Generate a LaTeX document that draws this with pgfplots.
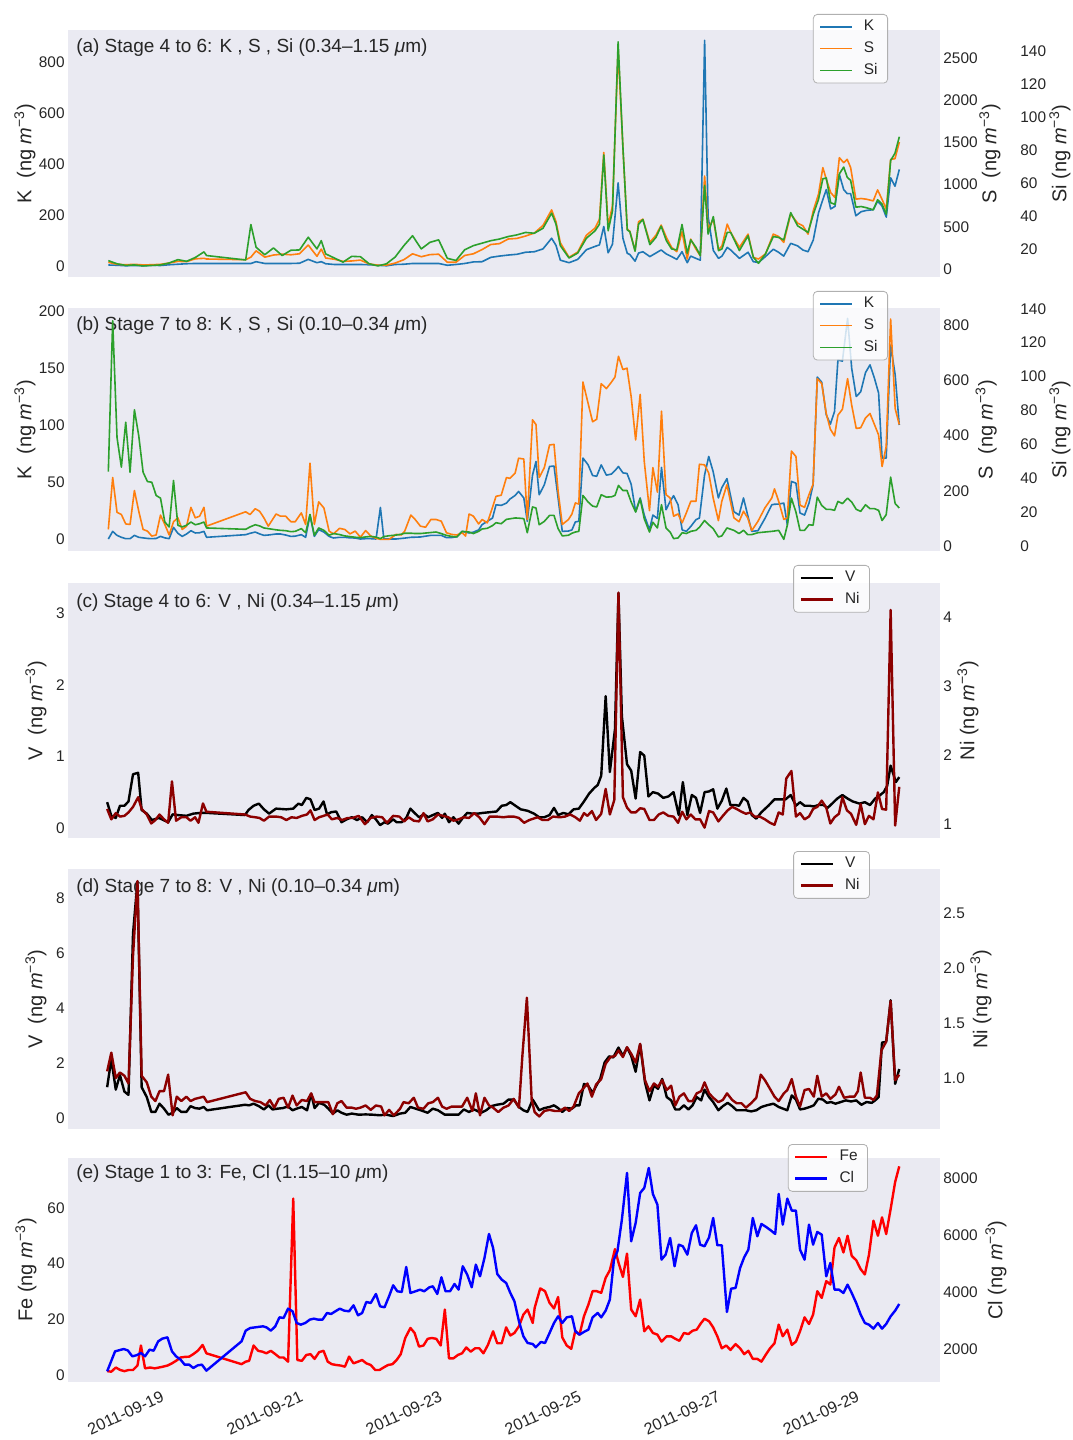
\documentclass[border=0pt]{standalone}
\usepackage{pgfplots}
\pgfplotsset{compat=1.18}
\usepackage{pgfplotstable}
\usepackage{fontspec}
\setmainfont{Liberation Sans}

\definecolor{bg}{HTML}{EAEAF2}
\definecolor{tg}{HTML}{262626}
\definecolor{tabblue}{HTML}{1F77B4}
\definecolor{taborange}{HTML}{FF7F0E}
\definecolor{tabgreen}{HTML}{2CA02C}
\definecolor{lgframe}{HTML}{B0B0B0}

\newcommand\tickfont{\fontsize{7.7}{9}\selectfont}
\newcommand\xtickfont{\fontsize{8.1}{9.5}\selectfont}
\newcommand\labfont{\fontsize{10}{12}\selectfont}
\newcommand\titfont{\fontsize{9.5}{11}\selectfont}
\newcommand\legfont{\fontsize{7.7}{9}\selectfont}
\newcommand\unit{(ng \textit{m}\textsuperscript{−3})}

\tikzset{ptitle/.style={anchor=west, font=\titfont, text=tg, inner sep=0pt}}

\pgfplotsset{
  panel/.style={scale only axis, width=436pt, xmin=17.70, xmax=30.24, anchor=south west,
    axis line style={draw=none}, major tick length=0pt,
    xtick={19,21,23,25,27,29}, xticklabels={},
    scaled y ticks=false,
    /pgf/number format/1000 sep={},
    /pgf/number format/assume math mode=true,
    tick label style={font=\tickfont, text=tg},
    y tick label style={inner xsep=1.5pt},
    legend style={draw=lgframe, rounded corners=2pt, fill=white, fill opacity=0.8,
      text opacity=1, font=\legfont, text=tg, anchor=north east,
      cells={anchor=west}, inner xsep=3pt, inner ysep=0.8pt},
    legend image code/.code={\draw (0pt,0pt) -- (16pt,0pt); \path (19.5pt,0pt);},
  },
  ylab/.style={every axis y label/.style={at={(axis description cs:#1,0.5)},rotate=90,anchor=center,font=\labfont,text=tg}},
  first/.style={panel, axis background/.style={fill=bg}},
  twin/.style={panel, hide x axis, yticklabel pos=right},
}

% panel (a): stage 4-6, K S Si
\pgfplotstableread{
t K S Si
18.28 3 79 12.9
18.405 2 55 11
18.53 0 50 10
18.655 1 55 10.3
18.78 0 48 9.7
18.905 2 50 10
19.03 1 55 10.3
19.155 4 70 11.5
19.28 6 90 13.5
19.405 8 87 12.5
19.53 9 120 14.8
19.655 9 126 18.2
19.6925 9 118 16
20.255 9 110 13.3
20.33 9 140 34.8
20.405 16 215 21
20.53 9 140 16.5
20.655 9 165 20.6
20.78 9 175 16
20.905 9 168 19.2
21.03 10 180 19.4
21.155 25 283 27.1
21.28 12 150 20
21.3425 16 236 25
21.405 8 130 17
21.53 5 115 14.5
21.655 5 90 12
21.78 5 95 15.5
21.905 5 105 15.3
22.03 4 60 11
22.155 2 45 9.7
22.28 0 45 11
22.405 5 70 15.1
22.53 6 110 22
22.655 9 180 28
22.78 9 145 20
22.905 9 170 24
23.03 9 175 25.5
23.155 2 80 14.3
23.28 5 80 13
23.405 9 160 19.5
23.53 15 180 22
23.655 16 230 23.5
23.78 33 290 25
23.905 38 300 26
24.03 42 355 27.5
24.155 45 362 28.5
24.28 53 390 30
24.405 55 425 29.5
24.53 66 515 32.5
24.655 108 700 41.7
24.7175 80 560 35
24.78 22 310 22
24.905 12 138 14.5
25.03 25 200 17.5
25.155 63 400 26.5
25.28 76 485 31
25.3425 82 590 35
25.405 154 1380 77
25.4675 51 512 31
25.53 85 750 43
25.611 325 2600 145.5
25.68 108 1437 81.7
25.7425 49 472 31.5
25.78 44 445 30.5
25.855 18 217 18.6
25.905 50 560 35
25.9675 55 590 37.8
26.0675 36 315 22.6
26.155 50 400 27
26.23 62 520 33.8
26.305 46 374 25
26.38 36 256 20
26.455 25 205 19.4
26.53 55 441 34.8
26.605 12 118 17.4
26.655 38 354 25.5
26.73 29 236 21
26.7925 22 157 16
26.855 884 1102 58.5
26.905 193 472 29
26.98 60 590 39.6
27.055 29 228 19
27.105 38 275 20
27.18 72 531 30
27.23 62 433 30
27.355 29 256 19
27.48 53 413 28
27.555 16 138 15
27.63 13 118 11.3
27.73 36 177 17
27.8425 65 413 27.5
27.9175 53 386 27
27.9925 38 315 25.5
28.0925 88 650 42
28.1925 78 543 34
28.2675 62 512 32
28.3425 55 413 30
28.4175 101 690 41
28.4925 207 886 50
28.555 260 1201 62.5
28.605 299 1063 63
28.6675 223 906 48
28.73 233 846 47
28.7925 358 1319 65.5
28.855 299 1260 69.6
28.905 283 1299 63.5
28.955 283 1201 61.5
29.03 196 827 45.3
29.105 212 835 45.7
29.18 217 827 45
29.28 220 807 43.7
29.3425 253 937 49.8
29.405 235 827 47.3
29.4675 191 709 41
29.53 345 1299 73.6
29.5925 312 1307 78
29.655 378 1504 88
}\tabA

% panel (b): stage 7-8, K S Si
\pgfplotstableread{
t K S Si
18.28 0 60 43.9
18.3425 6.7 248 133
18.405 3.2 122 64
18.4675 1.5 114 46.5
18.53 0.3 80 73
18.5925 0.3 78 43.5
18.655 3.2 201 80.4
18.7175 1.5 126 65
18.78 1 60 43.5
18.8425 0.5 54 38
18.905 0.3 36 37.6
18.9675 0.5 40 29.8
19.03 2.3 112 28.2
19.0925 1 78 14.1
19.155 0.3 40 11.2
19.2175 10.2 88 38.6
19.28 5 102 12.2
19.3425 2.3 60 11.2
19.405 4.4 72 12.2
19.4675 7.3 140 14.1
19.53 5.3 102 12.5
19.5925 5.5 108 13.1
19.655 6.7 140 14.1
19.6925 1.5 72 10.6
20.255 3.8 124 9.8
20.3175 5 114 11.2
20.3925 6.1 135 12.5
20.455 4.5 126 11.8
20.5175 3.2 102 10.6
20.58 3.5 72 10.2
20.6925 4.4 116 9.5
20.755 4.4 108 9.2
20.83 3.5 108 9
20.905 2.3 88 8.4
20.9675 2.5 88 8.6
21.055 3.8 120 10.2
21.1175 1.5 78 7.8
21.18 21 300 18.6
21.2425 2.3 78 6.3
21.305 8.2 160 10.6
21.38 6.1 138 9.2
21.455 2.3 54 6.3
21.5175 0.9 44 7.3
21.605 1.5 64 6.7
21.68 1.5 60 5.9
21.755 1 44 5.5
21.83 0.9 54 5.1
21.905 0 32 4.9
21.98 0.3 56 5.3
22.055 0.3 36 5.6
22.13 0 28 5.2
22.1925 27.7 24 4.3
22.2425 0 24 5.5
22.3175 0 24 6
22.4175 0 42 6.4
22.4925 0.5 40 6.9
22.5425 0.8 54 7.5
22.63 1.5 112 7.5
22.6925 1.6 96 7.3
22.7675 1.8 72 7.3
22.8425 2.5 68 7.6
22.9175 3.2 96 7.9
22.9925 3.2 96 8.2
23.0675 3.2 90 7.3
23.1425 1.2 48 6.2
23.2175 1.3 42 5.6
23.2925 2 40 5.3
23.3675 6.7 48 8.6
23.4175 6 36 8.4
23.4675 5.3 116 8.2
23.53 6 108 7.3
23.605 8 80 8.6
23.655 12.6 96 10
23.73 15.5 84 10.4
23.805 18.4 140 12
23.855 30 180 13.7
23.93 29.5 184 13.1
24.005 31.5 248 15.7
24.055 35 245 16
24.13 38.2 264 16.5
24.18 41.7 318 16.4
24.255 36 315 16.1
24.305 15.5 96 7.8
24.38 56 457 23
24.43 68 440 22.4
24.476 38.8 248 12.5
24.550 47.6 284 14.5
24.625 63.6 366 18
24.689 64 368 18
24.748 36 198 10.2
24.808 6.7 78 5.9
24.897 7 96 6.3
24.947 8 116 7.5
24.996 15 156 8.2
25.046 15.5 152 8.6
25.105 71 594 29.8
25.180 65 516 25.9
25.244 55.7 450 23.5
25.303 55 459 23
25.368 65 588 30.2
25.442 56 570 28.8
25.516 57 594 29
25.566 60 612 29.8
25.616 63.6 687 35.7
25.680 58 639 32.7
25.739 57.5 644 32.7
25.799 48 540 25.9
25.863 24 384 20
25.928 36 549 27.8
25.987 21 306 16
26.062 8 128 8.2
26.111 21 284 14
26.176 18 195 10.6
26.235 62.8 488 24.3
26.300 25.7 186 10.6
26.359 33 174 8.2
26.409 38 108 4.3
26.473 30 116 4.7
26.532 8 84 7.8
26.592 6.7 120 7.3
26.656 11 162 8.6
26.731 17 162 9.2
26.780 18.4 296 11
26.854 56 294 15
26.914 72.4 264 12.5
26.978 59 174 10.2
27.053 36 92 5.3
27.102 45 162 5.9
27.176 53 222 10.6
27.276 24 102 9.2
27.350 21 88 7.3
27.414 36 126 9.2
27.474 21 102 6.7
27.533 6.7 56 6.7
27.623 7.3 90 7.8
27.722 18 138 8.2
27.821 30 174 8.6
27.860 30.5 207 8.8
27.920 30.6 162 9.2
27.994 31.5 96 3.9
28.044 12.6 102 12.2
28.103 50.5 344 28.2
28.168 49 324 20
28.227 22.8 148 9.2
28.292 21 140 9.2
28.356 31.5 186 12.5
28.415 47.6 224 12.2
28.475 142 606 28.8
28.539 137.5 588 23.9
28.604 109 480 21.6
28.663 100.7 423 21.6
28.723 111.8 399 21
28.772 157 474 26.3
28.836 156 495 25
28.911 193.5 606 28.2
28.970 149.7 510 25.9
29.035 125 426 21.6
29.099 129 428 20.4
29.169 146 464 24.3
29.233 152.7 480 22
29.297 141 440 22
29.357 128 402 21
29.407 71 288 15
29.466 71 360 18.4
29.530 170 822 40.6
29.595 144 498 25
29.654 100 440 22.4
}\tabB

\begin{document}
\begin{tikzpicture}
\path[use as bounding box] (0pt,0pt) rectangle (536pt,720pt);

% ---------------- (a)
\begin{axis}[first, at={(34pt,581.5pt)}, height=123.5pt, ymin=-44, ymax=925,
  ytick={0,200,400,600,800}, ylab=-0.0493, ylabel={K\ \ \unit}]
\addplot[tabblue, line width=0.8pt, line join=round] table[x=t,y=K]{\tabA};
\node[ptitle] at (rel axis cs:0.009,0.927)
  {(a) Stage 4 to 6: K , S , Si (0.34–1.15 \textit{μ}m)};
\end{axis}
\begin{axis}[twin, at={(34pt,581.5pt)}, height=123.5pt, ymin=-95, ymax=2832,
  ytick={0,500,1000,1500,2000,2500}, ylab=1.0573, ylabel={S\ \ \unit}]
\addplot[taborange, line width=0.8pt, line join=round] table[x=t,y=S]{\tabA};
\end{axis}
\begin{axis}[twin, at={(34pt,581.5pt)}, height=123.5pt, ymin=3, ymax=152.7,
  ytick={20,40,60,80,100,120,140}, y tick label style={xshift=38.5pt},
  ylab=1.1376, ylabel={Si \unit}, legend style={at={(0.9404,1.0648)}}]
\addlegendimage{tabblue, line width=0.8pt}
\addlegendimage{taborange, line width=0.8pt}
\addplot[tabgreen, line width=0.8pt, line join=round] table[x=t,y=Si]{\tabA};
\legend{K,S,Si}
\end{axis}

% ---------------- (b)
\begin{axis}[first, at={(34pt,444.5pt)}, height=121.5pt, ymin=-10.5, ymax=202.6,
  ytick={0,50,100,150,200}, ylab=-0.0493, ylabel={K\ \ \unit}]
\addplot[tabblue, line width=0.8pt, line join=round] table[x=t,y=K]{\tabB};
\node[ptitle] at (rel axis cs:0.009,0.926)
  {(b) Stage 7 to 8: K , S , Si (0.10–0.34 \textit{μ}m)};
\end{axis}
\begin{axis}[twin, at={(34pt,444.5pt)}, height=121.5pt, ymin=-18, ymax=862,
  ytick={0,200,400,600,800}, ylab=1.053, ylabel={S\ \ \unit}]
\addplot[taborange, line width=0.8pt, line join=round] table[x=t,y=S]{\tabB};
\end{axis}
\begin{axis}[twin, at={(34pt,444.5pt)}, height=121.5pt, ymin=-3, ymax=140.5,
  ytick={0,20,40,60,80,100,120,140}, y tick label style={xshift=38.5pt},
  ylab=1.1376, ylabel={Si \unit}, legend style={at={(0.9404,1.07)}}]
\addlegendimage{tabblue, line width=0.8pt}
\addlegendimage{taborange, line width=0.8pt}
\addplot[tabgreen, line width=0.8pt, line join=round] table[x=t,y=Si]{\tabB};
\legend{K,S,Si}
\end{axis}

% ---------------- (c)
\begin{axis}[first, at={(34pt,301pt)}, height=127.5pt, ymin=-0.14, ymax=3.42,
  ytick={0,1,2,3}, ylab=-0.0367, ylabel={V\ \ \unit}]
\addplot[black, line width=1.2pt, line join=round] coordinates {
(18.263,0.36)(18.323,0.17)(18.387,0.14)(18.447,0.31)(18.511,0.31)(18.570,0.37)(18.635,0.75)(18.709,0.77)(18.759,0.25)(18.833,0.20)(18.907,0.11)(19.007,0.14)(19.140,0.08)(19.205,0.19)(19.279,0.18)(19.403,0.17)(19.502,0.20)(19.601,0.21)(19.700,0.21)(20.245,0.18)(20.295,0.25)(20.369,0.31)(20.444,0.34)(20.518,0.26)(20.592,0.20)(20.691,0.27)(20.840,0.26)(20.939,0.27)(21.013,0.34)(21.063,0.32)(21.127,0.42)(21.187,0.40)(21.246,0.25)(21.311,0.27)(21.375,0.37)(21.425,0.19)(21.484,0.22)(21.558,0.23)(21.633,0.08)(21.707,0.12)(21.781,0.15)(21.856,0.11)(21.930,0.15)(22.004,0.08)(22.069,0.18)(22.128,0.12)(22.188,0.04)(22.252,0.08)(22.302,0.06)(22.376,0.12)(22.426,0.08)(22.500,0.08)(22.564,0.14)(22.624,0.27)(22.673,0.22)(22.748,0.15)(22.822,0.19)(22.881,0.15)(22.946,0.18)(23.020,0.21)(23.080,0.14)(23.119,0.20)(23.179,0.08)(23.243,0.15)(23.317,0.06)(23.377,0.14)(23.441,0.21)(23.516,0.20)(23.590,0.20)(23.664,0.21)(23.764,0.22)(23.863,0.23)(23.937,0.31)(24.001,0.32)(24.061,0.36)(24.135,0.31)(24.210,0.26)(24.309,0.24)(24.402,0.20)(24.476,0.15)(24.550,0.15)(24.625,0.18)(24.689,0.28)(24.748,0.18)(24.823,0.21)(24.897,0.19)(24.971,0.26)(25.046,0.27)(25.120,0.37)(25.194,0.48)(25.269,0.56)(25.318,0.60)(25.368,0.73)(25.432,1.84)(25.492,0.78)(25.566,1.38)(25.616,3.28)(25.665,1.56)(25.739,0.89)(25.799,0.80)(25.863,0.41)(25.928,1.06)(25.987,1.01)(26.047,0.44)(26.111,0.50)(26.185,0.48)(26.260,0.42)(26.334,0.44)(26.408,0.50)(26.483,0.18)(26.542,0.64)(26.607,0.18)(26.671,0.46)(26.731,0.42)(26.790,0.21)(26.854,0.50)(26.919,0.51)(26.978,0.54)(27.038,0.27)(27.102,0.38)(27.167,0.55)(27.226,0.32)(27.301,0.32)(27.350,0.31)(27.414,0.42)(27.474,0.37)(27.533,0.18)(27.598,0.13)(27.672,0.22)(27.771,0.31)(27.860,0.40)(27.945,0.40)(28.019,0.40)(28.093,0.46)(28.168,0.31)(28.227,0.36)(28.292,0.31)(28.366,0.31)(28.425,0.30)(28.490,0.32)(28.564,0.32)(28.623,0.28)(28.688,0.34)(28.762,0.41)(28.836,0.46)(28.911,0.41)(28.985,0.37)(29.084,0.34)(29.159,0.36)(29.233,0.32)(29.307,0.41)(29.367,0.45)(29.431,0.50)(29.481,0.59)(29.530,0.87)(29.605,0.64)(29.654,0.71)
};
\node[ptitle] at (rel axis cs:0.009,0.925)
  {(c) Stage 4 to 6: V , Ni (0.34–1.15 \textit{μ}m)};
\end{axis}
\begin{axis}[twin, at={(34pt,301pt)}, height=127.5pt, ymin=0.8, ymax=4.49,
  ytick={1,2,3,4}, ylab=1.032, ylabel={Ni \unit}, legend style={at={(0.9197,1.0706)}}]
\addlegendimage{black, line width=1.2pt}
\addplot[red!55!black, line width=1.2pt, line join=round] coordinates {
(18.263,1.22)(18.323,1.07)(18.387,1.16)(18.447,1.11)(18.511,1.12)(18.570,1.17)(18.635,1.25)(18.709,1.39)(18.759,1.22)(18.833,1.14)(18.897,1.01)(18.957,1.06)(19.016,1.14)(19.081,1.07)(19.140,1.02)(19.195,1.62)(19.254,1.05)(19.329,1.10)(19.403,1.10)(19.462,1.05)(19.527,1.10)(19.576,1.02)(19.641,1.30)(19.690,1.18)(20.245,1.14)(20.320,1.11)(20.394,1.10)(20.453,1.09)(20.518,1.05)(20.592,1.11)(20.691,1.11)(20.766,1.10)(20.840,1.06)(20.914,1.10)(20.988,1.09)(21.063,1.12)(21.137,1.14)(21.187,1.20)(21.246,1.06)(21.311,1.10)(21.375,1.12)(21.435,1.14)(21.494,1.07)(21.573,1.09)(21.643,1.06)(21.722,1.09)(21.791,1.09)(21.881,1.12)(21.970,1.00)(22.054,1.09)(22.138,1.11)(22.218,1.10)(22.287,1.02)(22.376,1.12)(22.465,1.11)(22.535,1.04)(22.599,1.10)(22.673,1.05)(22.748,1.04)(22.812,1.16)(22.872,1.04)(22.946,1.07)(23.020,1.14)(23.095,1.12)(23.169,1.10)(23.243,1.05)(23.317,1.07)(23.392,1.10)(23.466,1.09)(23.541,1.16)(23.615,1.10)(23.689,1.00)(23.764,1.11)(23.863,1.11)(23.962,1.10)(24.036,1.11)(24.110,1.11)(24.185,1.09)(24.259,1.02)(24.334,1.06)(24.451,1.10)(24.525,1.06)(24.600,1.06)(24.674,1.11)(24.773,1.10)(24.848,1.11)(24.922,1.14)(24.996,1.10)(25.061,1.05)(25.120,1.16)(25.170,1.12)(25.234,1.19)(25.294,1.06)(25.368,1.15)(25.432,1.51)(25.492,1.14)(25.556,1.35)(25.616,4.35)(25.680,1.39)(25.739,1.24)(25.799,1.17)(25.863,1.17)(25.928,1.23)(25.987,1.22)(26.062,1.06)(26.126,1.06)(26.195,1.14)(26.260,1.17)(26.334,1.12)(26.408,1.11)(26.473,1.02)(26.532,1.18)(26.592,1.07)(26.656,1.14)(26.721,1.07)(26.790,1.07)(26.854,0.95)(26.919,1.19)(26.978,1.17)(27.053,1.04)(27.117,1.12)(27.186,1.20)(27.251,1.25)(27.315,1.22)(27.385,1.18)(27.449,1.15)(27.513,1.17)(27.573,1.11)(27.647,1.11)(27.722,1.07)(27.796,1.02)(27.860,0.99)(27.920,1.17)(27.979,1.14)(28.029,1.66)(28.103,1.77)(28.168,1.11)(28.227,1.16)(28.292,1.07)(28.356,1.11)(28.415,1.22)(28.475,1.25)(28.539,1.34)(28.604,1.24)(28.663,1.01)(28.723,1.10)(28.787,1.15)(28.836,1.39)(28.901,1.20)(28.960,1.15)(29.035,0.99)(29.099,1.29)(29.159,1.00)(29.218,1.12)(29.283,1.07)(29.347,1.46)(29.407,1.22)(29.466,1.21)(29.530,4.10)(29.595,0.98)(29.654,1.54)
};
\legend{V,Ni}
\end{axis}

% ---------------- (d)
\begin{axis}[first, at={(34pt,155.5pt)}, height=130pt, ymin=-0.4, ymax=9.05,
  ytick={0,2,4,6,8}, ylab=-0.0367, ylabel={V\ \ \unit}]
\addplot[black, line width=1.2pt, line join=round] coordinates {
(18.263,1.12)(18.323,2.14)(18.387,1.03)(18.447,1.56)(18.511,0.96)(18.570,0.84)(18.635,6.70)(18.699,8.60)(18.759,1.12)(18.833,0.76)(18.898,0.22)(18.957,0.22)(19.016,0.52)(19.081,0.34)(19.145,0.12)(19.205,0.19)(19.264,0.36)(19.329,0.22)(19.403,0.22)(19.462,0.43)(19.527,0.36)(19.591,0.34)(19.651,0.40)(19.700,0.28)(20.245,0.48)(20.305,0.46)(20.369,0.52)(20.444,0.43)(20.518,0.31)(20.582,0.46)(20.642,0.31)(20.716,0.34)(20.790,0.36)(20.865,0.42)(20.929,0.28)(20.988,0.34)(21.063,0.40)(21.137,0.28)(21.197,0.88)(21.246,0.36)(21.311,0.55)(21.385,0.48)(21.444,0.34)(21.509,0.16)(21.573,0.28)(21.633,0.19)(21.707,0.12)(21.781,0.16)(21.880,0.12)(21.980,0.13)(22.079,0.12)(22.178,0.10)(22.277,0.12)(22.376,0.07)(22.475,0.16)(22.550,0.19)(22.624,0.40)(22.698,0.34)(22.773,0.28)(22.872,0.19)(22.946,0.34)(23.020,0.28)(23.119,0.12)(23.218,0.12)(23.317,0.12)(23.392,0.31)(23.466,0.22)(23.541,0.31)(23.640,0.19)(23.714,0.28)(23.788,0.43)(23.863,0.48)(23.962,0.52)(24.036,0.67)(24.110,0.67)(24.185,0.40)(24.249,0.28)(24.309,0.22)(24.383,0.67)(24.476,0.28)(24.550,0.36)(24.625,0.40)(24.689,0.46)(24.748,0.36)(24.808,0.22)(24.872,0.36)(24.947,0.34)(25.006,0.46)(25.056,0.46)(25.120,1.24)(25.184,1.16)(25.244,0.91)(25.294,1.16)(25.353,1.42)(25.417,2.02)(25.482,2.24)(25.541,2.20)(25.616,2.56)(25.680,2.26)(25.739,2.56)(25.799,2.26)(25.863,1.68)(25.928,2.68)(25.997,1.30)(26.062,0.64)(26.126,1.18)(26.185,1.06)(26.245,1.42)(26.310,0.76)(26.374,0.64)(26.433,0.31)(26.493,0.31)(26.557,0.46)(26.622,0.31)(26.681,0.46)(26.741,0.76)(26.805,0.64)(26.854,1.03)(26.919,0.76)(26.978,0.58)(27.053,0.28)(27.117,0.43)(27.187,0.55)(27.251,0.43)(27.315,0.28)(27.385,0.28)(27.449,0.28)(27.523,0.24)(27.598,0.28)(27.672,0.40)(27.747,0.46)(27.845,0.52)(27.920,0.40)(28.044,0.28)(28.108,0.82)(28.168,0.67)(28.227,0.31)(28.292,0.34)(28.366,0.40)(28.425,0.46)(28.490,0.70)(28.554,0.67)(28.613,0.55)(28.673,0.58)(28.737,0.52)(28.812,0.58)(28.886,0.64)(28.961,0.60)(29.035,0.64)(29.109,0.48)(29.184,0.58)(29.258,0.55)(29.307,0.64)(29.357,0.76)(29.406,2.74)(29.466,2.77)(29.530,4.28)(29.595,1.24)(29.654,1.78)
};
\node[ptitle] at (rel axis cs:0.009,0.927)
  {(d) Stage 7 to 8: V , Ni (0.10–0.34 \textit{μ}m)};
\end{axis}
\begin{axis}[twin, at={(34pt,155.5pt)}, height=130pt, ymin=0.536, ymax=2.9,
  ytick={1,1.5,2,2.5}, yticklabel style={/pgf/number format/.cd,fixed,fixed zerofill,precision=1},
  ylab=1.047, ylabel={Ni \unit}, legend style={at={(0.9197,1.0692)}}]
\addlegendimage{black, line width=1.2pt}
\addplot[red!55!black, line width=1.2pt, line join=round] coordinates {
(18.263,1.06)(18.323,1.23)(18.387,1.00)(18.447,1.05)(18.511,1.02)(18.570,0.95)(18.635,2.11)(18.699,2.79)(18.759,1.02)(18.833,0.96)(18.898,0.83)(18.957,0.79)(19.016,0.88)(19.081,0.88)(19.140,1.03)(19.205,0.66)(19.264,0.83)(19.329,0.79)(19.403,0.83)(19.462,0.79)(19.527,0.81)(19.591,0.82)(19.651,0.83)(19.700,0.78)(20.255,0.87)(20.320,0.81)(20.394,0.79)(20.468,0.78)(20.543,0.75)(20.602,0.80)(20.667,0.73)(20.731,0.81)(20.800,0.82)(20.865,0.73)(20.929,0.84)(20.988,0.75)(21.063,0.80)(21.137,0.79)(21.197,0.86)(21.246,0.78)(21.311,0.78)(21.385,0.78)(21.444,0.78)(21.509,0.67)(21.573,0.77)(21.633,0.79)(21.707,0.73)(21.781,0.73)(21.841,0.72)(21.905,0.73)(21.980,0.75)(22.054,0.71)(22.128,0.75)(22.203,0.74)(22.252,0.66)(22.317,0.71)(22.386,0.66)(22.475,0.72)(22.525,0.78)(22.599,0.77)(22.673,0.82)(22.733,0.73)(22.812,0.72)(22.881,0.77)(22.946,0.78)(23.020,0.82)(23.080,0.74)(23.144,0.72)(23.218,0.74)(23.293,0.74)(23.367,0.74)(23.441,0.82)(23.516,0.70)(23.565,0.86)(23.625,0.66)(23.689,0.82)(23.754,0.75)(23.813,0.73)(23.887,0.69)(23.962,0.73)(24.036,0.75)(24.110,0.81)(24.185,0.73)(24.234,1.20)(24.299,1.73)(24.368,0.80)(24.411,0.69)(24.476,0.65)(24.550,0.70)(24.625,0.71)(24.699,0.70)(24.773,0.70)(24.848,0.73)(24.907,0.70)(24.971,0.74)(25.046,0.86)(25.105,0.90)(25.170,0.95)(25.234,0.83)(25.294,0.94)(25.368,0.99)(25.432,1.13)(25.502,1.19)(25.566,1.20)(25.616,1.25)(25.680,1.19)(25.739,1.28)(25.799,1.22)(25.863,1.14)(25.928,1.31)(25.997,0.98)(26.062,0.88)(26.126,0.95)(26.185,0.92)(26.245,0.98)(26.310,0.89)(26.374,0.93)(26.433,0.75)(26.493,0.83)(26.557,0.86)(26.622,0.79)(26.681,0.79)(26.741,0.86)(26.805,0.88)(26.854,0.96)(26.919,0.86)(26.978,0.82)(27.053,0.78)(27.117,0.80)(27.177,0.86)(27.251,0.80)(27.315,0.77)(27.385,0.77)(27.449,0.73)(27.523,0.77)(27.598,0.82)(27.662,1.03)(27.722,0.98)(27.796,0.90)(27.860,0.83)(27.920,0.79)(27.994,0.86)(28.044,0.89)(28.108,0.99)(28.168,0.83)(28.227,0.74)(28.292,0.89)(28.356,0.90)(28.425,0.83)(28.475,1.02)(28.539,0.83)(28.604,0.86)(28.663,0.81)(28.737,0.85)(28.787,0.92)(28.861,0.82)(28.936,0.83)(29.010,0.83)(29.059,0.88)(29.099,1.05)(29.159,0.82)(29.233,0.82)(29.283,0.80)(29.332,0.84)(29.397,1.25)(29.466,1.33)(29.530,1.70)(29.595,0.98)(29.654,1.03)
};
\legend{V,Ni}
\end{axis}

% ---------------- (e)
\begin{axis}[first, at={(34pt,29pt)}, height=112pt, ymin=-2.5, ymax=77.9,
  ytick={0,20,40,60}, ylab=-0.0482, ylabel={Fe \unit},
  xticklabels={2011-09-19,2011-09-21,2011-09-23,2011-09-25,2011-09-27,2011-09-29},
  x tick label style={font=\xtickfont, xshift=1pt, yshift=-4pt, rotate=25, anchor=north east, inner sep=0pt}]
\addplot[red, line width=1.2pt, line join=round] coordinates {
(18.263,1.4)(18.323,1.2)(18.387,2.7)(18.452,1.8)(18.511,1.4)(18.570,1.8)(18.635,1.8)(18.699,3.4)(18.749,10.6)(18.808,2.4)(18.883,2.7)(18.947,2.4)(19.007,2.7)(19.066,3.0)(19.130,3.4)(19.195,4.2)(19.254,5.1)(19.319,6.3)(19.378,6.5)(19.443,6.6)(19.502,7.5)(19.566,8.7)(19.636,10.8)(19.690,7.8)(20.196,3.9)(20.255,4.8)(20.305,5.1)(20.369,10.6)(20.434,8.7)(20.493,8.4)(20.553,7.8)(20.617,8.7)(20.681,7.5)(20.741,6.3)(20.800,6.3)(20.865,4.8)(20.939,63.3)(20.998,5.4)(21.063,5.1)(21.127,7.2)(21.187,7.5)(21.246,5.8)(21.311,8.2)(21.375,8.7)(21.435,4.8)(21.494,3.9)(21.558,3.6)(21.623,3.4)(21.682,3.0)(21.742,6.6)(21.806,4.2)(21.871,4.8)(21.930,5.4)(21.990,4.2)(22.054,3.6)(22.118,1.8)(22.178,1.8)(22.238,2.7)(22.302,3.6)(22.366,3.9)(22.426,5.4)(22.485,7.5)(22.550,13.3)(22.624,16.9)(22.684,15.1)(22.748,10.2)(22.812,10.6)(22.872,13.0)(22.931,13.3)(22.996,13.0)(23.060,10.6)(23.119,23.5)(23.179,6.0)(23.243,6.0)(23.307,7.2)(23.367,7.8)(23.427,9.9)(23.491,8.4)(23.555,9.6)(23.615,9.6)(23.674,7.8)(23.739,10.8)(23.813,15.7)(23.873,11.4)(23.937,11.4)(24.001,17.1)(24.061,14.2)(24.120,15.1)(24.185,17.5)(24.249,21.7)(24.309,23.5)(24.383,18.7)(24.411,24.1)(24.491,31.1)(24.560,30.1)(24.625,25.9)(24.689,23.9)(24.748,28.0)(24.808,13.5)(24.872,10.6)(24.937,9.4)(24.996,15.9)(25.056,14.5)(25.120,21.1)(25.184,25.3)(25.244,30.1)(25.303,30.1)(25.368,29.5)(25.432,34.9)(25.492,37.6)(25.566,45.2)(25.616,40.4)(25.680,35.2)(25.739,43.6)(25.799,23.5)(25.863,21.1)(25.928,27.1)(25.987,15.7)(26.047,17.5)(26.111,15.1)(26.176,14.5)(26.235,12.0)(26.309,13.9)(26.374,13.9)(26.433,13.0)(26.493,12.3)(26.557,15.1)(26.622,14.7)(26.681,15.9)(26.741,16.3)(26.805,18.7)(26.854,20.2)(26.919,19.3)(26.978,17.1)(27.038,13.9)(27.102,9.6)(27.167,10.6)(27.226,9.0)(27.300,11.1)(27.365,9.6)(27.424,7.5)(27.484,8.7)(27.548,5.8)(27.613,5.8)(27.672,4.8)(27.732,7.2)(27.796,9.6)(27.860,11.4)(27.920,18.1)(27.979,13.9)(28.044,16.3)(28.108,10.8)(28.168,12.0)(28.227,15.7)(28.292,20.7)(28.356,18.3)(28.415,21.7)(28.475,30.1)(28.539,27.7)(28.604,33.7)(28.663,32.5)(28.723,45.8)(28.787,49.2)(28.851,44.0)(28.911,50.0)(28.970,42.8)(29.035,41.2)(29.099,38.0)(29.159,36.1)(29.218,43.1)(29.283,55.4)(29.347,50.0)(29.406,56.6)(29.466,50.6)(29.530,59.6)(29.595,69.3)(29.654,74.9)
};
\node[ptitle] at (rel axis cs:0.009,0.929)
  {(e) Stage 1 to 3: Fe, Cl (1.15–10 \textit{μ}m)};
\end{axis}
\begin{axis}[twin, at={(34pt,29pt)}, height=112pt, ymin=842, ymax=8702,
  ytick={2000,4000,6000,8000}, ylab=1.0642, ylabel={Cl \unit},
  legend style={at={(0.9174,1.0625)}}]
\addlegendimage{red, line width=1.2pt}
\addplot[blue, line width=1.2pt, line join=round] coordinates {
(18.263,1216)(18.377,1918)(18.501,2000)(18.560,1950)(18.625,1743)(18.684,1780)(18.749,1860)(18.808,1743)(18.873,1977)(18.932,1940)(18.997,2269)(19.056,2363)(19.130,2410)(19.195,1918)(19.254,1743)(19.319,1626)(19.378,1450)(19.443,1450)(19.502,1333)(19.566,1427)(19.626,1450)(19.690,1240)(20.196,2269)(20.255,2643)(20.320,2737)(20.394,2760)(20.503,2796)(20.553,2760)(20.617,2643)(20.681,2796)(20.741,3111)(20.800,3088)(20.865,3416)(20.929,3322)(20.988,2913)(21.048,2854)(21.112,2913)(21.177,3030)(21.236,3065)(21.296,3030)(21.360,3030)(21.425,3264)(21.484,3229)(21.544,3322)(21.608,3416)(21.672,3346)(21.742,3322)(21.806,3533)(21.871,3182)(21.930,3264)(21.990,3650)(22.054,3615)(22.128,3931)(22.188,3498)(22.252,3463)(22.317,3849)(22.376,4235)(22.436,4025)(22.500,4001)(22.564,4878)(22.624,3966)(22.698,4025)(22.763,4083)(22.822,4025)(22.897,4165)(22.946,4200)(23.011,3931)(23.070,4516)(23.129,4025)(23.194,4025)(23.258,4281)(23.317,4083)(23.377,4902)(23.441,4609)(23.506,4165)(23.565,4960)(23.625,4551)(23.689,5194)(23.754,6037)(23.813,5545)(23.873,4633)(23.937,4434)(24.001,4317)(24.061,3966)(24.120,3673)(24.185,2971)(24.249,2445)(24.309,2211)(24.383,2176)(24.426,2059)(24.501,2246)(24.560,2211)(24.625,2562)(24.689,2913)(24.748,3147)(24.808,2913)(24.872,3111)(24.947,3147)(24.996,2620)(25.056,2503)(25.120,2600)(25.184,2679)(25.244,3111)(25.318,3264)(25.368,3111)(25.432,3346)(25.492,3732)(25.551,5136)(25.601,5428)(25.665,6540)(25.739,8178)(25.799,5779)(25.863,6423)(25.928,7476)(25.987,7651)(26.052,8353)(26.111,7441)(26.176,7066)(26.235,5136)(26.294,5311)(26.359,5896)(26.423,4902)(26.483,5662)(26.542,5604)(26.607,5311)(26.671,6072)(26.731,6341)(26.790,5662)(26.854,5604)(26.919,5920)(26.978,6598)(27.038,5639)(27.102,5639)(27.176,3299)(27.236,4118)(27.300,4141)(27.365,4843)(27.424,5218)(27.484,5487)(27.548,6598)(27.613,5955)(27.672,6388)(27.746,6271)(27.811,6154)(27.870,6037)(27.920,7441)(27.979,6364)(28.044,7277)(28.108,6856)(28.168,6856)(28.227,5487)(28.292,5136)(28.356,6364)(28.415,5662)(28.475,6107)(28.539,6013)(28.604,4551)(28.663,5019)(28.723,4083)(28.787,4083)(28.851,3966)(28.911,4258)(28.970,3966)(29.035,3615)(29.099,3205)(29.159,2913)(29.218,2854)(29.283,2714)(29.347,2913)(29.406,2714)(29.466,2878)(29.530,3147)(29.595,3346)(29.654,3580)
};
\legend{Fe,Cl}
\end{axis}
\end{tikzpicture}
\end{document}
